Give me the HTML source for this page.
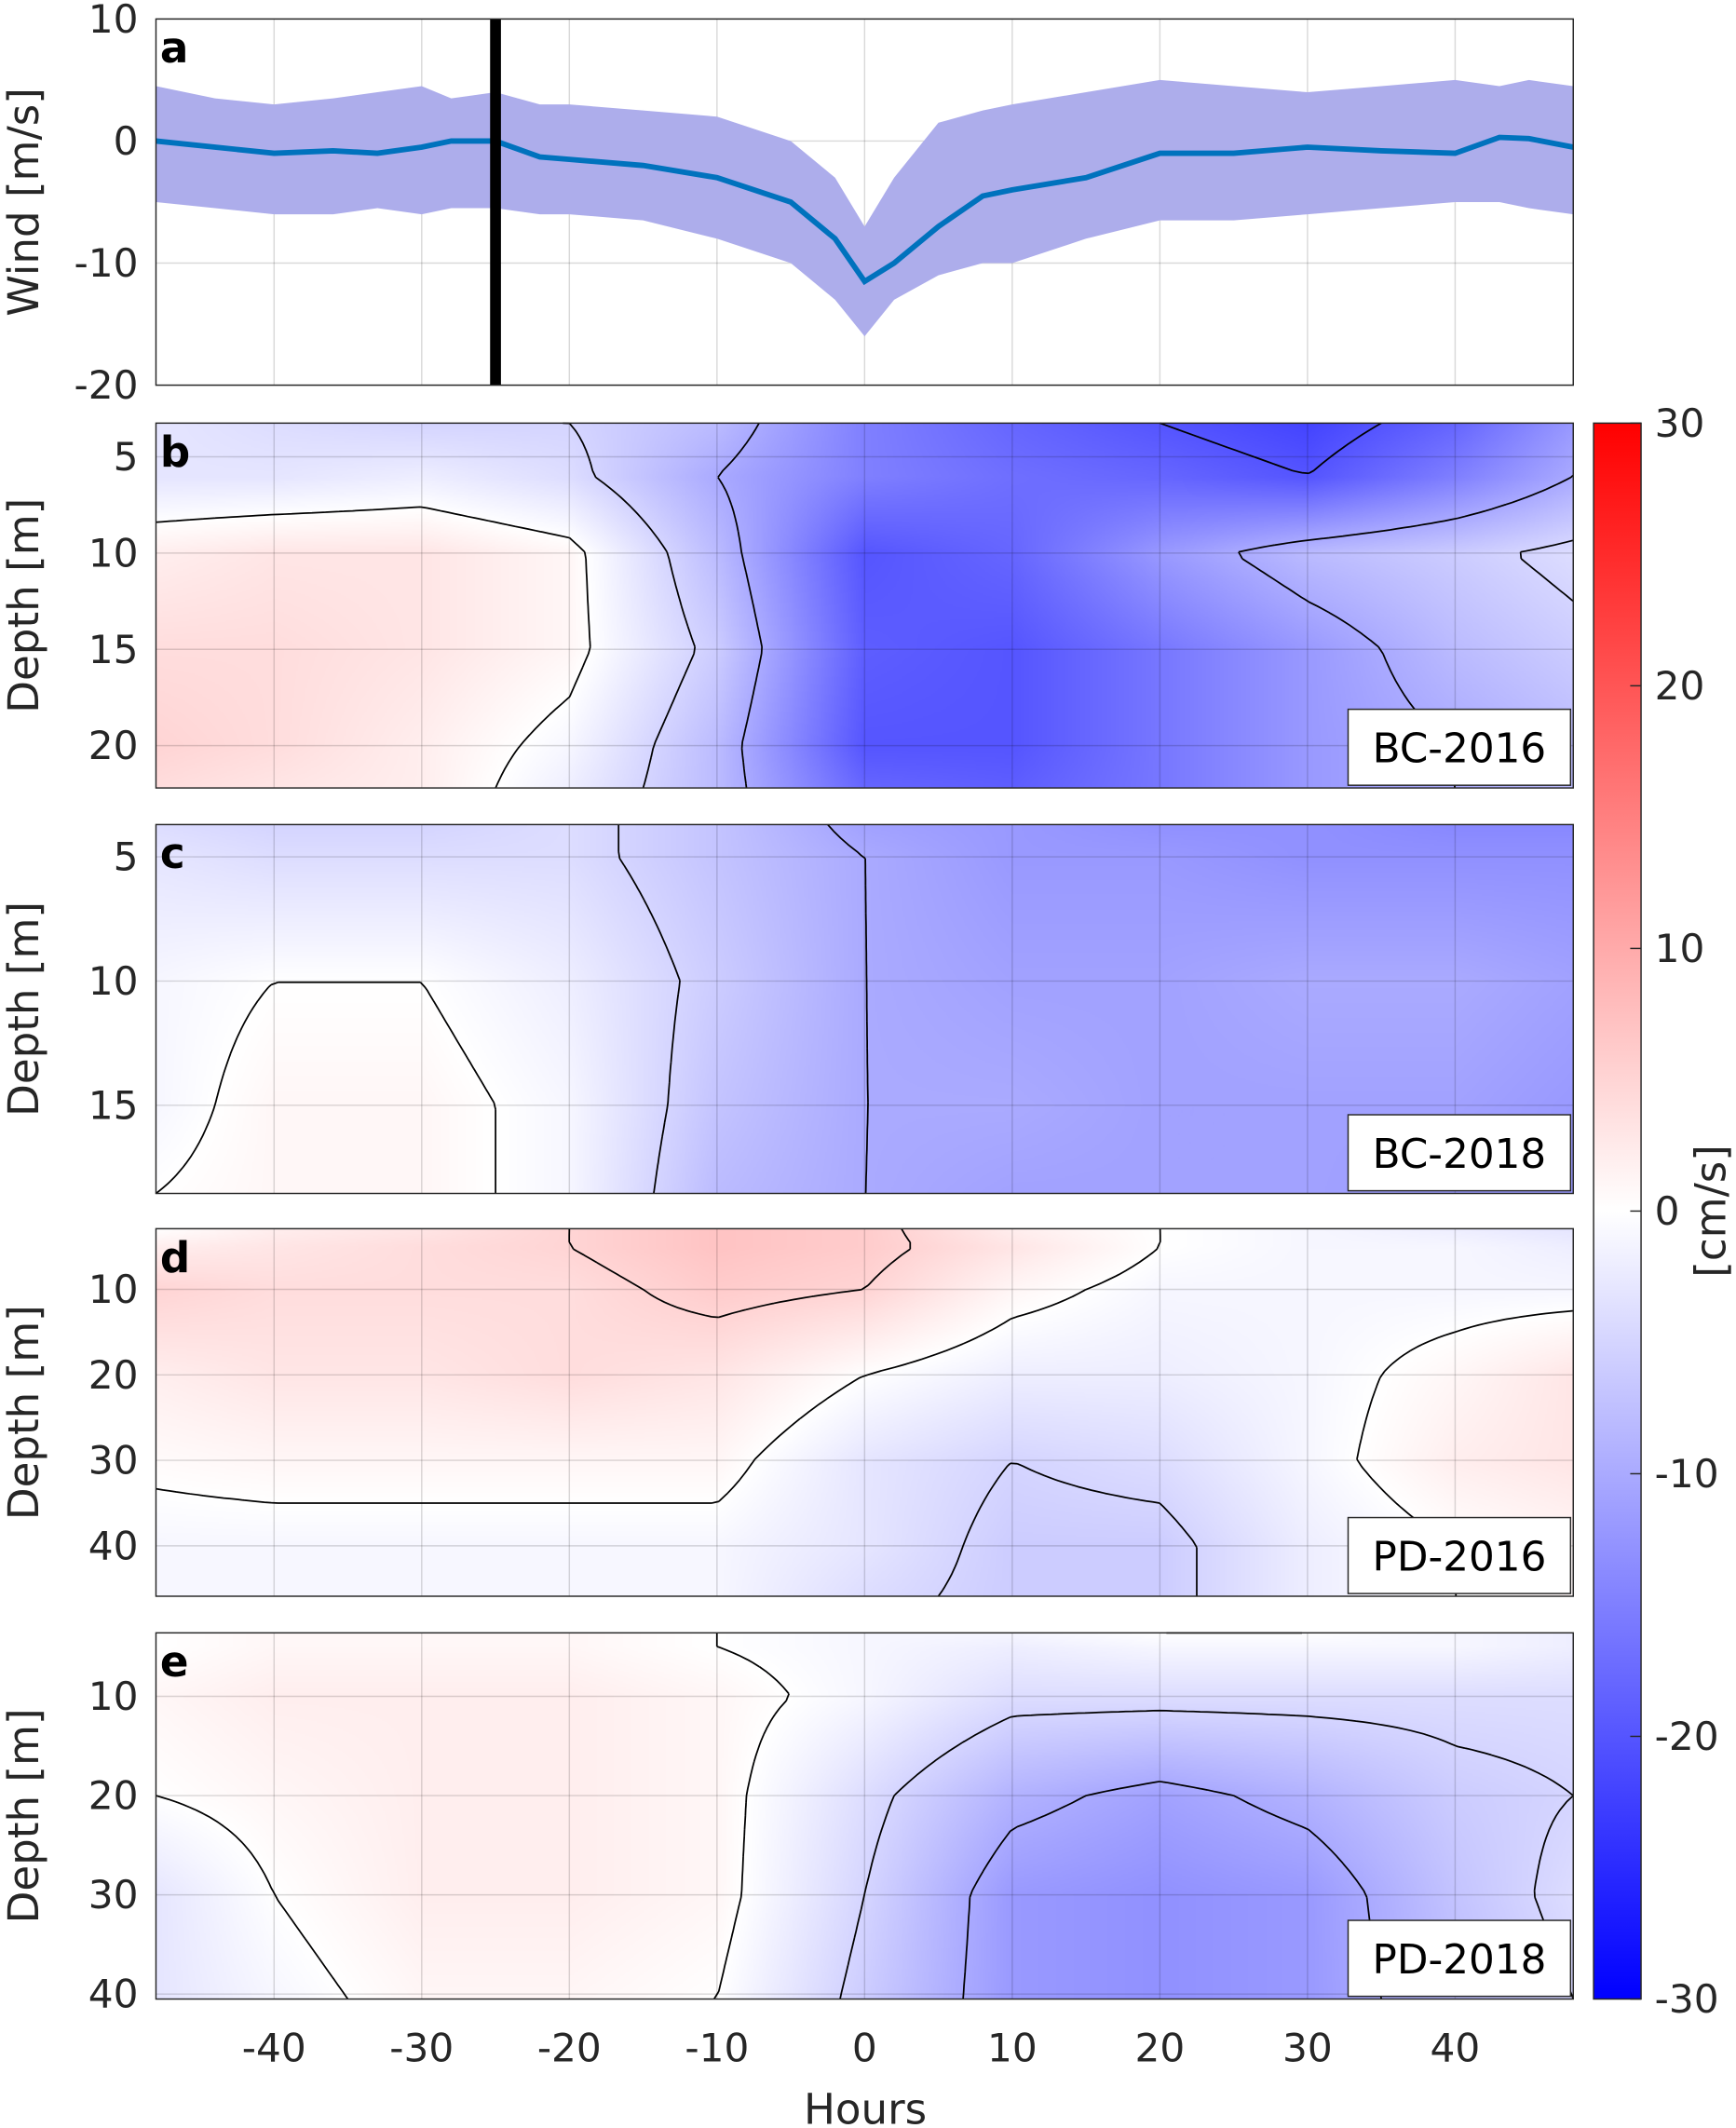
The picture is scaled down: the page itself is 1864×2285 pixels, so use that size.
<!DOCTYPE html>
<html><head><meta charset="utf-8"><style>
html,body{margin:0;padding:0;background:#fff;width:1864px;height:2285px;overflow:hidden}
#wrap{position:absolute;left:0;top:0;width:1280px;height:1569px;transform:scale(1.45625);transform-origin:0 0;font-family:"DejaVu Sans","Liberation Sans",sans-serif}
canvas{position:absolute}
svg{position:absolute;left:0;top:0}
</style></head><body>
<div id="wrap">
<canvas id="cb" width="1045" height="269" style="left:115px;top:312px"></canvas>
<canvas id="cc" width="1045" height="272" style="left:115px;top:608px"></canvas>
<canvas id="cd" width="1045" height="271" style="left:115px;top:906px"></canvas>
<canvas id="ce" width="1045" height="270" style="left:115px;top:1204px"></canvas>
<svg id="svg" width="1280" height="1569" viewBox="0 0 1280 1569">
<defs><linearGradient id="cbg" x1="0" y1="0" x2="0" y2="1"><stop offset="0" stop-color="#ff0000"/><stop offset="0.5" stop-color="#ffffff"/><stop offset="1" stop-color="#0000ff"/></linearGradient></defs>
</svg>
</div>
<script>
// ---- wind data (panel a) ----
const windHours=[-48,-44,-40,-36,-33,-30,-28,-25,-22,-20,-15,-10,-5,-2,0,2,5,8,10,15,20,25,30,35,40,43,45,48];
const windMean=[0,-0.5,-1,-0.8,-1,-0.5,0,0,-1.3,-1.5,-2,-3,-5,-8,-11.5,-10,-7,-4.5,-4,-3,-1,-1,-0.5,-0.8,-1,0.3,0.2,-0.5];
const windUpper=[4.5,3.5,3,3.5,4,4.5,3.5,4,3,3,2.5,2,0,-3,-7,-3,1.5,2.5,3,4,5,4.5,4,4.5,5,4.5,5,4.5];
const windLower=[-5,-5.5,-6,-6,-5.5,-6,-5.5,-5.5,-6,-6,-6.5,-8,-10,-13,-16,-13,-11,-10,-10,-8,-6.5,-6.5,-6,-5.5,-5,-5,-5.5,-6];
const eventHour=-25;
// ---- velocity grids ----
const gridTimes=[-48,-40,-30,-20,-10,0,10,20,30,40,48];
const depthsB=[3.25,6,10,15,20,22.2];
const velB=[[-3,-4,-5,-5,-8,-15,-18,-20,-22,-18,-12],[-3,-3,-2,-4,-10,-15,-17,-18,-20,-15,-10],[2,3,3,1,-8,-20,-18,-12,-8,-6,-4],[4,4,3,1,-6,-19,-20,-16,-12,-8,-6],[5,4,2,-1,-8,-20,-20,-16,-12,-10,-8],[4,3,2,-2,-8,-18,-19,-16,-12,-10,-8]];
const depthsC=[3.7,5,10,15,18.55];
const velC=[[-4,-5,-5,-4,-7,-11,-12,-13,-13,-14,-14],[-3,-4,-4,-4,-7,-10,-12,-12,-13,-13,-13],[-1,0,0,-2,-6,-10,-11,-11,-10,-10,-11],[-1,1,1,-1,-7,-10,-10,-11,-11,-11,-12],[0,1,1,-1,-8,-10,-11,-11,-11,-12,-12]];
const depthsD=[2.9,5,10,20,30,40,45.9];
const velD=[[0,2,3,5,7,6,2,0,-1,-2,-3],[2,3,4,5,7,6,3,0,-1,-1,-2],[5,4,4,4,6,5,1,-1,-1,-1,-1],[2,3,3,4,3,0,-2,-2,-1,1,3],[0.5,1,1,1,1,-3,-5,-4,-1,2,3],[-1,-1,-1,-1,-1,-3,-6,-6,-2,0,1],[-1,-1,-1,-1,-1,-4,-6,-6,-2,0,1]];
const depthsE=[3.6,5,10,20,30,40.5];
const velE=[[0,1,1,1,0,-1,-1,0,0,-1,-2],[0,1,1,1,0,-1,-2,-1,-1,-1,-2],[1,2,2,2,1,-1,-4,-4,-4,-4,-4],[0,1,2,2,1,-4,-9,-11,-9,-6,-5],[-3,0,2,2,1,-5,-12,-13,-12,-7,-4],[-3,-1,1,1,0,-6,-12,-13,-12,-8,-5]];
const contourLevels=[-20,-10,-5,0,5];
const xTicks=[-40,-30,-20,-10,0,10,20,30,40];
const cbTicks=[30,20,10,0,-10,-20,-30];

const NS="http://www.w3.org/2000/svg";
const svg=document.getElementById('svg');
function el(tag,attrs,parent){const e=document.createElementNS(NS,tag);for(const k in attrs)e.setAttribute(k,attrs[k]);(parent||svg).appendChild(e);return e;}
const X0=115,X1=1160;
const xs=h=>X0+(h+48)/96*(X1-X0);

function frame(top,bot,ymin,ymax,yticks,ylab,letter,name){
  const ys=v=>top+(v-ymin)/(ymax-ymin)*(bot-top);
  for(const t of xTicks){const l=el('line',{x1:xs(t),x2:xs(t),y1:top,y2:bot,stroke:'#000','stroke-opacity':0.15,'stroke-width':1});
    
    }
  for(const t of yticks){const l=el('line',{x1:X0,x2:X1,y1:ys(t),y2:ys(t),stroke:'#000','stroke-opacity':0.15,'stroke-width':1});
    
    
    const tx=el('text',{x:102,y:ys(t)+10,'text-anchor':'end','font-size':29,fill:'#262626'});tx.textContent=t;
    
    }
  const yl=el('text',{transform:`translate(${ylab.x},${(top+bot)/2}) rotate(-90)`,'text-anchor':'middle','font-size':31,fill:'#262626'});yl.textContent=ylab.t;
  
  
  const lt=el('text',{x:118,y:top+32,'font-size':31,'font-weight':'bold',fill:'#000'});lt.textContent=letter;
  
  
  return ys;
}
function box(top,bot,name){const r=el('rect',{x:X0,y:top,width:X1-X0,height:bot-top,fill:'none',stroke:'#262626','stroke-width':1});
  
  }

// panel a
{const top=14,bot=284;const ys=frame(top,bot,10,-20,[10,0,-10,-20],{x:28,t:'Wind [m/s]'},'a');
 let d='M'+windHours.map((h,i)=>xs(h)+','+ys(windUpper[i])).join('L');
 for(let i=windHours.length-1;i>=0;i--)d+='L'+xs(windHours[i])+','+ys(windLower[i]);
 const band=el('path',{d:d+'Z',fill:'#adadeb'});
 
 
 const ln=el('path',{d:'M'+windHours.map((h,i)=>xs(h)+','+ys(windMean[i])).join('L'),fill:'none',stroke:'#0072bd','stroke-width':4});
 
 
 const ev=el('line',{x1:xs(eventHour),x2:xs(eventHour),y1:top,y2:bot,stroke:'#000','stroke-width':8});
 
 
 box(top,bot,'panel-a-frame');}

function interp(times,depths,grid,t,d){
  let i=0;while(i<times.length-2&&t>times[i+1])i++;
  let j=0;while(j<depths.length-2&&d>depths[j+1])j++;
  let u=(t-times[i])/(times[i+1]-times[i]),v=(d-depths[j])/(depths[j+1]-depths[j]);
  u=Math.max(0,Math.min(1,u));v=Math.max(0,Math.min(1,v));
  const a=grid[j][i],b=grid[j][i+1],c=grid[j+1][i],e=grid[j+1][i+1];
  return a*(1-u)*(1-v)+b*u*(1-v)+c*(1-u)*v+e*u*v;
}
function color(v){v=Math.max(-30,Math.min(30,v))/30;
  if(v>=0)return [255,Math.round(255*(1-v)),Math.round(255*(1-v))];
  return [Math.round(255*(1+v)),Math.round(255*(1+v)),255];}

function heat(cid,top,bot,dmin,dmax,depths,grid,yticks,label,letter){
  const ys=frame(top,bot,dmin,dmax,yticks,{x:28,t:'Depth [m]'},letter);
  const cv=document.getElementById(cid),ctx=cv.getContext('2d');
  const W=cv.width,H=cv.height,img=ctx.createImageData(W,H);
  const tAt=x=>-48+x/W*96,dAt=y=>dmin+y/H*(dmax-dmin);
  for(let y=0;y<H;y++)for(let x=0;x<W;x++){const c=color(interp(gridTimes,depths,grid,tAt(x),dAt(y)));const k=(y*W+x)*4;img.data[k]=c[0];img.data[k+1]=c[1];img.data[k+2]=c[2];img.data[k+3]=255;}
  ctx.putImageData(img,0,0);
  // contours (marching squares)
  const st=5,nx=Math.ceil(W/st),ny=Math.ceil(H/st);
  const F=[];for(let j=0;j<=ny;j++){F[j]=[];for(let i=0;i<=nx;i++)F[j][i]=interp(gridTimes,depths,grid,tAt(Math.min(W,i*st)),dAt(Math.min(H,j*st)));}
  for(const L of contourLevels){let d='';
    for(let j=0;j<ny;j++)for(let i=0;i<nx;i++){
      const x0=X0+i*st,y0=top+j*st,x1=X0+Math.min(W,(i+1)*st),y1=top+Math.min(H,(j+1)*st);
      const a=F[j][i],b=F[j][i+1],c=F[j+1][i+1],e=F[j+1][i];
      const pts=[];
      const ed=(p,q,px,py,qx,qy)=>{if((p<L)!==(q<L)){const f=(L-p)/(q-p);pts.push([px+(qx-px)*f,py+(qy-py)*f]);}};
      ed(a,b,x0,y0,x1,y0);ed(b,c,x1,y0,x1,y1);ed(c,e,x1,y1,x0,y1);ed(e,a,x0,y1,x0,y0);
      for(let k=0;k+1<pts.length;k+=2)d+=`M${pts[k][0].toFixed(1)},${pts[k][1].toFixed(1)}L${pts[k+1][0].toFixed(1)},${pts[k+1][1].toFixed(1)}`;
    }
    if(d){const p=el('path',{d:d,fill:'none',stroke:'#000','stroke-width':1.2});
      
      }
  }
  const r=el('rect',{x:994,y:bot-58,width:164,height:56,fill:'#fff',stroke:'#262626','stroke-width':1});
  
  
  const t=el('text',{x:1076,y:bot-19,'text-anchor':'middle','font-size':30,fill:'#000'});t.textContent=label;
  
  
  box(top,bot,'panel-'+letter+'-frame');
}
heat('cb',312,581,3.25,22.2,depthsB,velB,[5,10,15,20],'BC-2016','b');
heat('cc',608,880,3.7,18.55,depthsC,velC,[5,10,15],'BC-2018','c');
heat('cd',906,1177,2.9,45.9,depthsD,velD,[10,20,30,40],'PD-2016','d');
heat('ce',1204,1474,3.6,40.5,depthsE,velE,[10,20,30,40],'PD-2018','e');

// x tick labels
for(const t of xTicks){const tx=el('text',{x:xs(t),y:1520,'text-anchor':'middle','font-size':29,fill:'#262626'});tx.textContent=t;
  
  }
{const tx=el('text',{x:638,y:1566,'text-anchor':'middle','font-size':31,fill:'#262626'});tx.textContent='Hours';
  
  }

// colorbar
{const top=312,bot=1474;const cb=el('rect',{x:1175,y:top,width:35,height:bot-top,fill:'url(#cbg)',stroke:'#262626','stroke-width':1});
 
 
 for(const t of cbTicks){const y=top+(30-t)/60*(bot-top);
  const l=el('line',{x1:1202,x2:1210,y1:y,y2:y,stroke:'#262626','stroke-width':1});
  
  
  const tx=el('text',{x:1220,y:y+10,'font-size':29,fill:'#262626'});tx.textContent=t;
  
  }
 const yl=el('text',{transform:'translate(1272,893) rotate(-90)','text-anchor':'middle','font-size':31,fill:'#262626'});yl.textContent='[cm/s]';
 
 }
</script>
</body></html>
